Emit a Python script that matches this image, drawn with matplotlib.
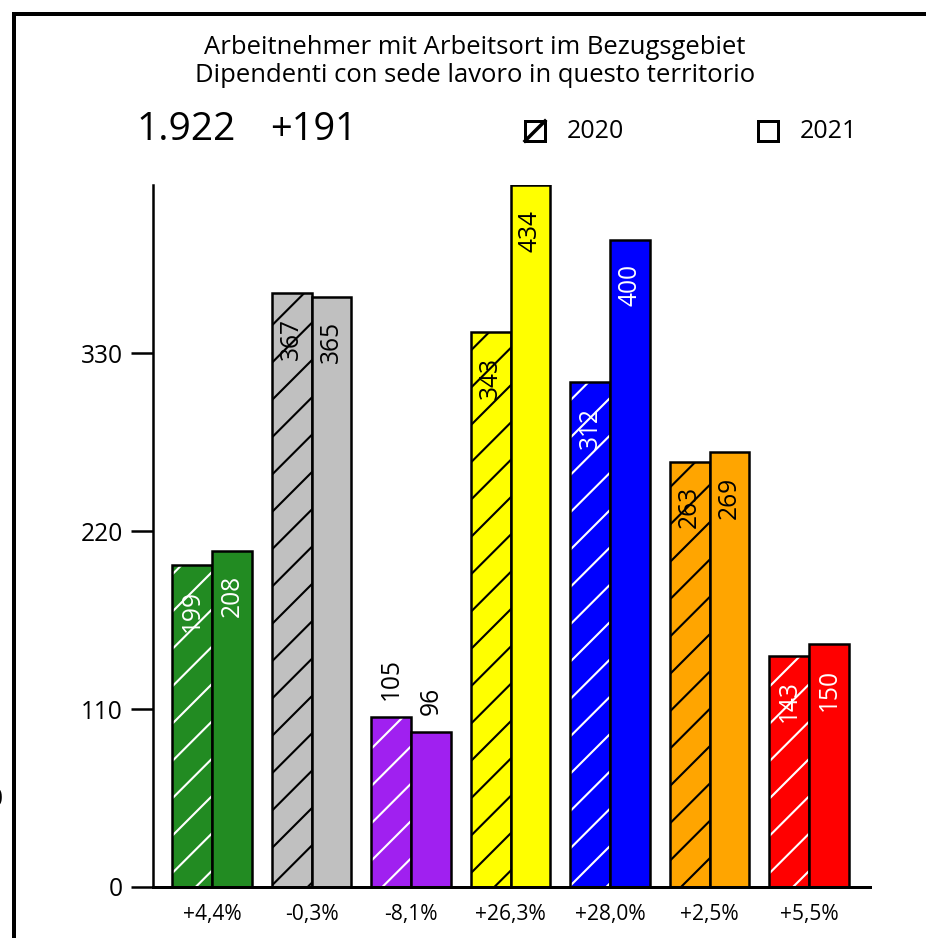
import numpy as np
import matplotlib.pyplot as plt
from matplotlib.lines import Line2D
from matplotlib.patches import Rectangle

# data
changes = ['+4,4%', '-0,3%', '-8,1%', '+26,3%', '+28,0%', '+2,5%', '+5,5%']
values_2020 = [199, 367, 105, 343, 312, 263, 143]
values_2021 = [208, 365, 96, 434, 400, 269, 150]
colors = ['#228b22', '#c0c0c0', '#a020f0', '#ffff00', '#0000ff', '#ffa500', '#ff0000']
hatch_colors = ['white', 'black', 'white', 'black', 'white', 'black', 'white']
label_colors = ['white', 'black', 'black', 'black', 'white', 'black', 'white']
label_outside = [False, False, True, False, False, False, False]
y_ticks = [0, 110, 220, 330]

# dpi chosen so the '/' hatch spacing comes out near the reference (~28 px)
DPI = 112
W, H = 927, 938


def px(v):
    # pixels -> points
    return v * 72 / DPI


plt.rcParams['font.family'] = ['Open Sans', 'DejaVu Sans']
plt.rcParams['hatch.linewidth'] = px(2.1)

fig = plt.figure(figsize=(W / DPI, H / DPI), dpi=DPI)
ax = fig.add_axes([153 / W, 1 - 887 / H, (870 - 153) / W, (887 - 185) / H])

x = np.arange(len(changes))
w = 0.4

# 2020 bars: fill + hatch, then black outline on top
ax.bar(x - w / 2, values_2020, w, color=colors, edgecolor=hatch_colors, hatch='/', linewidth=0)
ax.bar(x - w / 2, values_2020, w, fill=False, edgecolor='black', linewidth=px(2.5))
ax.bar(x + w / 2, values_2021, w, color=colors, edgecolor='black', linewidth=px(2.5))

lab_fs = px(24.5)
for i in range(len(changes)):
    for xx, v in [(x[i] - w / 2, values_2020[i]), (x[i] + w / 2, values_2021[i])]:
        if label_outside[i]:
            ax.annotate(str(v), (xx, v), xytext=(0, px(17)), textcoords='offset points',
                        rotation=90, ha='center', va='bottom', fontsize=lab_fs, color='black')
        else:
            ax.annotate(str(v), (xx, v), xytext=(0, -px(24.5)), textcoords='offset points',
                        rotation=90, ha='center', va='top', fontsize=lab_fs, color=label_colors[i])

ax.set_xlim(-0.593, 6.613)
ax.set_ylim(0, 434)
ax.set_yticks(y_ticks)
ax.set_yticklabels([str(t) for t in y_ticks], fontsize=px(24.5))
ax.set_xticks(x)
ax.set_xticklabels(changes, fontsize=px(21))
ax.tick_params(axis='y', length=px(22), width=px(2.5), pad=px(8))
ax.tick_params(axis='x', length=0, pad=px(17))
for s in ['top', 'right']:
    ax.spines[s].set_visible(False)
ax.spines['left'].set_linewidth(px(2.5))
ax.spines['bottom'].set_linewidth(px(3))

# frame around the picture (right and bottom edges fall outside the image)
fig.add_artist(Line2D([14 / W, 14 / W], [0, 1 - 14 / H], color='black', lw=px(4)))
fig.add_artist(Line2D([14 / W, 1], [1 - 14 / H, 1 - 14 / H], color='black', lw=px(4)))

fig.text(475 / W, 1 - 47 / H, 'Arbeitnehmer mit Arbeitsort im Bezugsgebiet',
         ha='center', va='center', fontsize=px(25.6))
fig.text(475 / W, 1 - 75 / H, 'Dipendenti con sede lavoro in questo territorio',
         ha='center', va='center', fontsize=px(25.6))
fig.text(137 / W, 1 - 130 / H, '1.922', ha='left', va='center', fontsize=px(39))
fig.text(270 / W, 1 - 130 / H, '+191', ha='left', va='center', fontsize=px(38))

# legend
for x0, lab, hatched in [(525, '2020', True), (758, '2021', False)]:
    fig.add_artist(Rectangle((x0 / W, 1 - 141 / H), 20 / W, 20 / H,
                             facecolor='white', edgecolor='black', lw=px(3)))
    if hatched:
        fig.add_artist(Line2D([x0 / W, (x0 + 20) / W], [1 - 141 / H, 1 - 121 / H],
                              color='black', lw=px(3.5)))
    fig.text((x0 + 42) / W, 1 - 131 / H, lab, ha='left', va='center', fontsize=px(25))

fig.text(0.003, 1 - 800 / H, '0', ha='right', va='center', fontsize=px(24.5))

fig.savefig('out.png', dpi=DPI)
